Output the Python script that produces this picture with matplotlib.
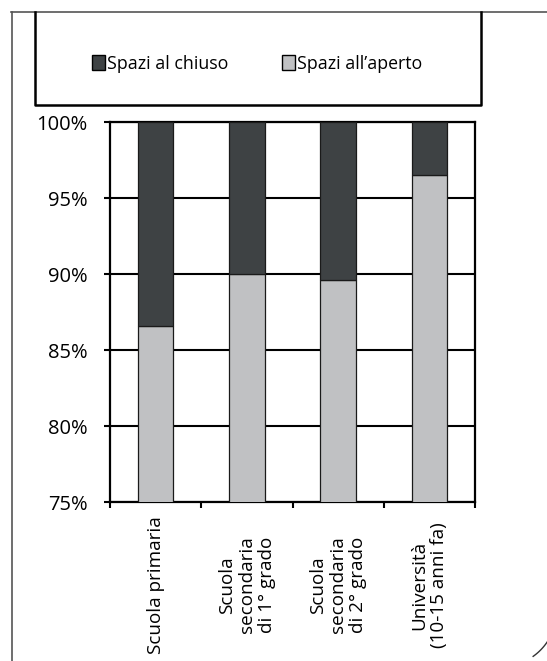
import numpy as np
import matplotlib
matplotlib.use('Agg')
import matplotlib.pyplot as plt
from matplotlib.lines import Line2D
from matplotlib.patches import Patch
from matplotlib.transforms import blended_transform_factory

plt.rcParams['font.family'] = ['Open Sans', 'DejaVu Sans']

CATEGORIES = ['Scuola primaria',
              'Scuola\nsecondaria\ndi 1° grado',
              'Scuola\nsecondaria\ndi 2° grado',
              'Università\n(10-15 anni fa)']
APERTO = [86.6, 90.0, 89.6, 96.5]
CHIUSO = [100 - v for v in APERTO]
SERIES_NAMES = ['Spazi al chiuso', 'Spazi all\u2019aperto']
Y_TICKS = [75, 80, 85, 90, 95, 100]

DARK = '#3e4244'
LIGHT = '#c0c1c3'
W, H = 547, 661


def fx(px):
    return px / W


def fy(py):
    return 1 - py / H


fig = plt.figure(figsize=(W / 100, H / 100), dpi=100)
ax = fig.add_axes([fx(110), fy(502), fx(475) - fx(110), fy(122) - fy(502)])

x = np.arange(len(CATEGORIES))
ax.bar(x, APERTO, width=0.39, bottom=0, color=LIGHT, edgecolor='#1a1a1a', linewidth=0.9, zorder=3)
ax.bar(x, CHIUSO, width=0.39, bottom=APERTO, color=DARK, edgecolor='#1a1a1a', linewidth=0.9, zorder=3)

ax.set_ylim(75, 100)
ax.set_xlim(-0.5, len(CATEGORIES) - 0.5)
ax.set_yticks(Y_TICKS)
ax.set_yticklabels(['%d%%' % v for v in Y_TICKS], fontsize=14.5)
ax.set_xticks(np.arange(len(CATEGORIES) + 1) - 0.5)
ax.set_xticklabels([])
ax.tick_params(axis='y', direction='out', length=4, width=1.5, pad=12, color='black')
ax.tick_params(axis='x', direction='out', length=4, width=1.5, color='black')
ax.yaxis.grid(True, color='black', linewidth=1.5, zorder=0)
ax.set_axisbelow(True)
for sp in ax.spines.values():
    sp.set_linewidth(1.6)
    sp.set_color('black')

trans = blended_transform_factory(ax.transData, fig.transFigure)
for i, lab in enumerate(CATEGORIES):
    ax.text(x[i], fy(585), lab, rotation=90, ha='center', va='center',
            multialignment='center', fontsize=13.6, linespacing=1.12,
            transform=trans, clip_on=False)

# outer frame
fig.add_artist(Line2D([fx(11), 1], [fy(12), fy(12)], color='#555555', linewidth=1.2))
fig.add_artist(Line2D([fx(12), fx(12)], [fy(12), 0], color='#555555', linewidth=1.2))
t = np.linspace(-0.1, 0.95, 40)
fig.add_artist(Line2D(fx(500 + 57 * np.cos(t)), fy(610 + 57 * np.sin(t)), color='#333333', linewidth=1.0))

# legend box
fig.add_artist(Line2D([fx(35), fx(35), fx(481), fx(481)], [fy(12), fy(105), fy(105), fy(12)],
                      color='black', linewidth=1.8))
handles = [Patch(facecolor=DARK, edgecolor='black', linewidth=1.0),
           Patch(facecolor=LIGHT, edgecolor='black', linewidth=1.0)]
fig.legend(handles, SERIES_NAMES, loc='center', bbox_to_anchor=(fx(257), fy(64)), ncol=2,
           frameon=False, fontsize=12.8, handlelength=0.75, handleheight=0.9,
           handletextpad=0.1, columnspacing=3.0)

fig.savefig('out.png', dpi=100)
